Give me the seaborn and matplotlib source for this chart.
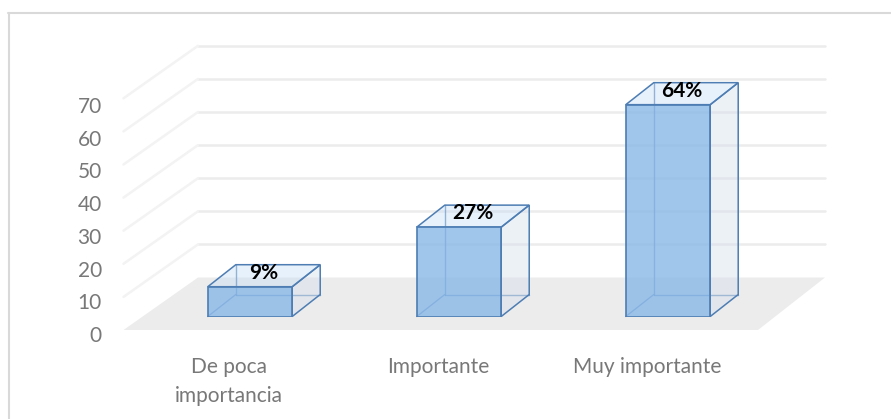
import matplotlib
matplotlib.use("Agg")
import matplotlib.pyplot as plt
import seaborn as sns
import pandas as pd
from matplotlib.patches import Polygon, Rectangle
from matplotlib.lines import Line2D
from matplotlib.transforms import IdentityTransform, offset_copy, ScaledTranslation

# ---- data ----
categories = ["De poca\nimportancia", "Importante", "Muy importante"]
values = [9, 27, 64]
y_ticks = [0, 10, 20, 30, 40, 50, 60, 70]

W, H, DPI = 891, 419, 100

sns.set_theme(style="white")
plt.rcParams["font.family"] = ["Lato", "DejaVu Sans"]

fig = plt.figure(figsize=(W / DPI, H / DPI), dpi=DPI)
fig.patch.set_facecolor("white")


def rect_px(left, top, right, bottom):
    return [left / W, 1 - bottom / H, (right - left) / W, (bottom - top) / H]


# front plane of the bars
PX_PER_UNIT = 3.31
BASE_Y = 316.5
Y_MAX = 80
ax = fig.add_axes(rect_px(145.5, BASE_Y - PX_PER_UNIT * Y_MAX, 772.5, BASE_Y))
ax.set_facecolor("none")
for s in ax.spines.values():
    s.set_visible(False)

df = pd.DataFrame({"categoria": categories, "valor": values})
sns.barplot(data=df, x="categoria", y="valor", width=0.404, color="#8ab9e8",
            saturation=1, edgecolor="#4d7db3", linewidth=1.2, ax=ax, zorder=5)
ax.set_xlim(-0.5, len(categories) - 0.5)
ax.set_ylim(0, Y_MAX)
ax.autoscale(False)
ax.set_ylabel("")
ax.set_xlabel("")
ax.set_yticks([])
ax.tick_params(axis="x", length=0, pad=29, labelsize=15, labelcolor="#787878")
ax.set_xticks(range(len(categories)))
ax.set_xticklabels(categories, linespacing=1.55)
for lab in ax.get_xticklabels():
    lab.set_transform(lab.get_transform() + ScaledTranslation(-21 / DPI, 0, fig.dpi_scale_trans))

bars = [p for p in ax.patches if isinstance(p, Rectangle)]
ident = IdentityTransform()


def disp(x, v, dx=0.0, dy=0.0):
    px, py = ax.transData.transform((x, v))
    return (px + dx, py + dy)


x_lo, x_hi = ax.get_xlim()
BACK = (52.5, 39.0)

# floor
floor = Polygon([disp(x_lo, 0, -22, -13.5), disp(x_hi, 0, -14.5, -13.5),
                 disp(x_hi, 0, *BACK), disp(x_lo, 0, *BACK)],
                closed=True, transform=ident, facecolor="#ececec",
                edgecolor="none", zorder=1, clip_on=False)
ax.add_patch(floor)

# back wall and side wall gridlines
for v in y_ticks:
    if v == 0:
        continue
    p0 = disp(x_lo, v, *BACK)
    p1 = disp(x_hi, v, *BACK)
    ax.add_line(Line2D([p0[0], p1[0]], [p0[1], p1[1]], transform=ident,
                       color="#ececec", lw=1.8, zorder=1.5, clip_on=False))
    pf = disp(x_lo, v, -22, -13.5)
    ax.add_line(Line2D([p0[0], pf[0]], [p0[1], pf[1]], transform=ident,
                       color="#f3f3f3", lw=1.8, zorder=1.5, clip_on=False))

# 3D boxes built on the bar patches
DEPTH = (28.0, 22.0)
EDGE = "#4d7db3"
for p in bars:
    x0, w, h = p.get_x(), p.get_width(), p.get_height()
    A = disp(x0, 0)
    B = disp(x0 + w, 0)
    C = disp(x0 + w, h)
    D = disp(x0, h)
    o = lambda q: (q[0] + DEPTH[0], q[1] + DEPTH[1])
    # edges seen through the transparent front face
    for q0, q1 in [(o(A), o(B)), (o(A), o(D)), (A, o(A))]:
        ax.add_line(Line2D([q0[0], q1[0]], [q0[1], q1[1]], transform=ident,
                           color=EDGE, lw=1.0, alpha=0.75, zorder=3, clip_on=False))
    side = Polygon([B, C, o(C), o(B)], closed=True, transform=ident,
                   facecolor=(0.84, 0.88, 0.93, 0.45), edgecolor=EDGE, lw=1.1,
                   zorder=4, clip_on=False)
    top = Polygon([D, C, o(C), o(D)], closed=True, transform=ident,
                  facecolor=(0.74, 0.85, 0.96, 0.35), edgecolor=EDGE, lw=1.1,
                  zorder=4, clip_on=False)
    ax.add_patch(side)
    ax.add_patch(top)
    p.set_facecolor((0.54, 0.72, 0.91, 0.80))
    p.set_zorder(5)

# value labels on top of the bars
lab_tr = offset_copy(ax.transData, fig=fig, x=14, y=14, units="dots")
for p, v in zip(bars, values):
    ax.text(p.get_x() + p.get_width() / 2, p.get_height(), f"{v}%",
            transform=lab_tr, ha="center", va="center", fontsize=15,
            fontweight="bold", color="black", zorder=8, clip_on=False)

# value axis labels
ax_lab = fig.add_axes(rect_px(106, 105, 107, 334))
ax_lab.set_ylim(0, 70)
ax_lab.set_yticks(y_ticks)
ax_lab.set_yticklabels([str(t) for t in y_ticks])
ax_lab.set_xticks([])
ax_lab.tick_params(axis="y", length=0, pad=3, labelsize=15, labelcolor="#787878")
ax_lab.set_facecolor("none")
for s in ax_lab.spines.values():
    s.set_visible(False)

# chart frame
fig.add_artist(Line2D([8.5 / W, 8.5 / W], [1 - 13 / H, 0], transform=fig.transFigure,
                      color="#d9d9d9", lw=1.5))
fig.add_artist(Line2D([8 / W, 1], [1 - 13.5 / H, 1 - 13.5 / H], transform=fig.transFigure,
                      color="#d9d9d9", lw=1.5))

fig.savefig("out.png", dpi=DPI, facecolor="white")
